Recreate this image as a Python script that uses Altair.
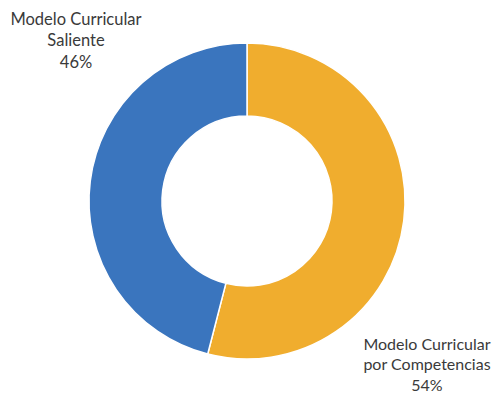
import altair as alt
import pandas as pd

categories = ["Modelo Curricular por Competencias", "Modelo Curricular Saliente"]
values = [54, 46]
colors = ["#F0AD2E", "#3A75BE"]
label_lines = [["Modelo Curricular", "por Competencias", "54%"],
               ["Modelo Curricular", "Saliente", "46%"]]

df = pd.DataFrame({"cat": categories, "val": values, "ord": list(range(len(categories)))})

arc = alt.Chart(df).mark_arc(innerRadius=85, outerRadius=158, stroke="white", strokeWidth=1.5).encode(
    theta=alt.Theta("val:Q", stack=True),
    order=alt.Order("ord:Q"),
    color=alt.Color("cat:N", scale=alt.Scale(domain=categories, range=colors), legend=None),
    x=alt.value(247 - 8),
    y=alt.value(201 - 8),
)

def label(lines, cx, ys, size):
    layers = []
    for line, y in zip(lines, ys):
        d = pd.DataFrame({"t": [line]})
        layers.append(alt.Chart(d).mark_text(font="Lato", fontSize=size, color="#3a3a3a",
                                             baseline="middle", align="center").encode(
            text="t:N", x=alt.value(cx - 8), y=alt.value(y - 8)))
    return alt.layer(*layers)

chart = alt.layer(
    arc,
    label(label_lines[1], 76, [20, 41, 63], 16.5),
    label(label_lines[0], 427, [345, 365, 386], 16),
).properties(width=484, height=387, autosize="none", padding=0).configure_view(stroke=None)

chart.save("out.html", embed_options={"renderer": "svg", "actions": False})
